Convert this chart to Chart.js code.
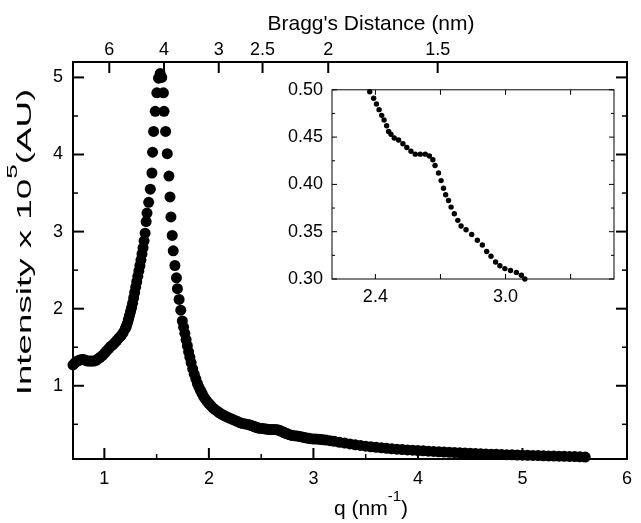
<!DOCTYPE html>
<html>
<head>
<meta charset="utf-8">
<script src="https://cdn.jsdelivr.net/npm/chart.js@4.4.1/dist/chart.umd.min.js"></script>
<style>
html,body{margin:0;padding:0;background:#fff;overflow:hidden}
#wrap{position:relative;width:641px;height:523px}
#main{position:absolute;left:0;top:0}
#inset{position:absolute;left:270px;top:70px}
</style>
</head>
<body>
<div id="wrap">
<canvas id="main" width="641" height="523"></canvas>
<canvas id="inset" width="360" height="239"></canvas>
</div>
<script>
// main curve (q in nm^-1, intensity x 10^5)
const qRise = [0.70,0.72,0.74,0.76,0.78,0.80,0.82,0.84,0.86,0.88,0.90,0.92,0.94,0.96,0.98,1.00,1.02,1.04,1.06,1.08,1.10,1.12,1.14,1.16,1.18,1.20,1.21,1.22,1.23,1.24,1.25,1.26,1.27,1.28,1.29,1.30,1.31,1.32,1.33,1.34,1.35,1.36,1.37,1.38,1.39,1.40]
const intensityRise = [1.27,1.30,1.32,1.33,1.34,1.34,1.33,1.32,1.32,1.32,1.32,1.33,1.35,1.37,1.39,1.42,1.45,1.48,1.51,1.53,1.56,1.59,1.62,1.65,1.69,1.74,1.77,1.81,1.86,1.91,1.96,2.01,2.07,2.14,2.21,2.28,2.35,2.42,2.49,2.56,2.63,2.71,2.79,2.88,2.98,3.13]

const qPeak = [1.408,1.424,1.440,1.455,1.461,1.471,1.487,1.502,1.518,1.534,1.549,1.565,1.571,1.586,1.602,1.618,1.628,1.637,1.649,1.659,1.675,1.690,1.699,1.715,1.731,1.746]
const intensityPeak = [3.24,3.38,3.55,3.76,4.03,4.30,4.56,4.80,4.99,5.05,5.00,4.80,4.56,4.30,4.01,3.72,3.45,3.19,2.95,2.75,2.56,2.40,2.26,2.12,1.98,1.84]

const qFall = [1.758,1.770,1.782,1.794,1.806,1.818,1.830,1.845,1.860,1.875,1.890,1.905,1.920,1.935,1.950,1.965,1.980,2.000,2.020,2.040,2.060,2.080,2.100,2.125,2.150,2.175,2.200,2.225,2.250,2.275,2.300,2.325,2.350]
const intensityFall = [1.76,1.68,1.60,1.52,1.44,1.37,1.30,1.22,1.15,1.09,1.03,0.98,0.94,0.90,0.86,0.83,0.80,0.77,0.74,0.71,0.69,0.67,0.65,0.63,0.61,0.595,0.58,0.565,0.55,0.535,0.52,0.51,0.503]

// the zoomed part (also shown in the inset)
const qInset = [2.374,2.392,2.405,2.417,2.429,2.440,2.452,2.461,2.472,2.487,2.507,2.527,2.545,2.564,2.584,2.607,2.630,2.649,2.665,2.675,2.691,2.703,2.714,2.724,2.737,2.749,2.764,2.780,2.795,2.818,2.844,2.870,2.893,2.913,2.933,2.954,2.974,2.997,3.023,3.050,3.073,3.089]
const intensityInset = [0.498,0.491,0.485,0.479,0.473,0.468,0.462,0.456,0.453,0.449,0.447,0.443,0.439,0.435,0.432,0.432,0.432,0.430,0.426,0.420,0.412,0.404,0.396,0.389,0.383,0.376,0.369,0.362,0.356,0.352,0.347,0.341,0.336,0.329,0.324,0.318,0.314,0.311,0.309,0.307,0.304,0.300]

const qTail = [3.12,3.16,3.20,3.25,3.30,3.35,3.40,3.45,3.50,3.55,3.60,3.65,3.70,3.75,3.80,3.85,3.90,3.95,4.00,4.05,4.10,4.15,4.20,4.25,4.30,4.35,4.40,4.45,4.50,4.55,4.60,4.65,4.70,4.75,4.80,4.85,4.90,4.95,5.00,5.05,5.10,5.15,5.20,5.25,5.30,5.35,5.40,5.45,5.50,5.55,5.60]
const intensityTail = [0.296,0.288,0.279,0.267,0.256,0.245,0.235,0.226,0.217,0.209,0.202,0.195,0.189,0.183,0.178,0.173,0.168,0.164,0.160,0.156,0.152,0.148,0.144,0.140,0.137,0.134,0.131,0.128,0.125,0.122,0.119,0.116,0.113,0.110,0.108,0.106,0.104,0.102,0.100,0.098,0.096,0.094,0.092,0.090,0.088,0.087,0.085,0.083,0.081,0.078,0.075]

// ticks
const xTicks = [1,2,3,4,5,6]
const xMinor = [1.5,2.5,3.5,4.5,5.5]
const yTicks = [1,2,3,4,5]
const yMinor = [0.5,1.5,2.5,3.5,4.5]
const braggTicks = [6,4,3,2.5,2,1.5]   // nm, top axis
const insetXTicks = [2.4,3.0]
const insetXMinor = [2.7,3.3]
const insetYTicks = [0.30,0.35,0.40,0.45,0.50]
const insetYMinor = [0.325,0.375,0.425,0.475]

const topTitle = "Bragg's Distance (nm)"
const bottomTitle = [['q (nm',false],['-1',true],[')',false]]
const leftTitle = [['Intensity x 10',false],['5',true],['(AU)',false]]

const FONT = '"Liberation Sans", Arial, Helvetica, sans-serif'
Chart.defaults.font.family = FONT
Chart.defaults.color = '#000'

const qMain = [...qRise,...qPeak,...qFall,...qInset,...qTail]
const intensityMain = [...intensityRise,...intensityPeak,...intensityFall,...intensityInset,...intensityTail]
const braggQ = braggTicks.map(d => 2*Math.PI/d)

function toPoints(xs,ys){
    return xs.map((x,i) => ({x, y: ys[i]}))
}

// inward tick marks + closed frame, drawn with the chart's own scales
function tickFrame(marks, frameWidth){
    return {
        id: 'tickFrame',
        afterDraw(chart){
            const {ctx, chartArea: a, scales} = chart
            ctx.save()
            ctx.strokeStyle = '#000'
            ctx.lineCap = 'butt'
            marks.forEach(m => {
                const s = scales[m.scale]
                ctx.lineWidth = m.width
                m.values.forEach(v => {
                    const p = s.getPixelForValue(v)
                    ctx.beginPath()
                    if(m.side === 'bottom'){ ctx.moveTo(p,a.bottom); ctx.lineTo(p,a.bottom-m.len) }
                    if(m.side === 'top'){ ctx.moveTo(p,a.top); ctx.lineTo(p,a.top+m.len) }
                    if(m.side === 'left'){ ctx.moveTo(a.left,p); ctx.lineTo(a.left+m.len,p) }
                    if(m.side === 'right'){ ctx.moveTo(a.right,p); ctx.lineTo(a.right-m.len,p) }
                    ctx.stroke()
                })
            })
            ctx.lineWidth = frameWidth
            ctx.strokeRect(a.left, a.top, a.right-a.left, a.bottom-a.top)
            ctx.restore()
        }
    }
}

function drawParts(ctx, parts, x, y, size, supSize, rise){
    let total = 0
    parts.forEach(([t,sup]) => {
        ctx.font = `${sup ? supSize : size}px ${FONT}`
        total += ctx.measureText(t).width
    })
    let cx = x - total/2
    parts.forEach(([t,sup]) => {
        ctx.font = `${sup ? supSize : size}px ${FONT}`
        ctx.fillText(t, cx, sup ? y-rise : y)
        cx += ctx.measureText(t).width
    })
}

const axisTitles = {
    id: 'axisTitles',
    afterDraw(chart){
        const ctx = chart.ctx
        ctx.save()
        ctx.fillStyle = '#000'
        ctx.textBaseline = 'alphabetic'
        ctx.textAlign = 'left'
        ctx.font = `21px ${FONT}`
        const w = ctx.measureText(topTitle).width
        ctx.fillText(topTitle, 371 - w/2, 30)
        drawParts(ctx, bottomTitle, 371, 515, 21, 15, 14)
        // the y title in the picture is drawn long and narrow
        ctx.translate(31, 242)
        ctx.rotate(-Math.PI/2)
        ctx.scale(1.75, 1)
        drawParts(ctx, leftTitle, 0, 0, 21, 15, 14)
        ctx.restore()
    }
}

const noGrid = {display:false, drawTicks:false}

new Chart(document.getElementById('main'),{
    type: 'scatter',
    data: {
        datasets: [{
            data: toPoints(qMain, intensityMain),
            pointRadius: 5.5,
            pointBorderWidth: 0,
            pointBackgroundColor: '#000',
            backgroundColor: '#000',
            borderColor: '#000',
            clip: false
        }]
    },
    options: {
        responsive: false,
        animation: false,
        events: [],
        layout: {padding: {left:0, right:4, top:0, bottom:0}},
        plugins: {legend:{display:false}, tooltip:{enabled:false}},
        scales: {
            x: {
                type: 'linear', position: 'bottom', min: 0.7, max: 6,
                afterBuildTicks: s => { s.ticks = xTicks.map(value => ({value})) },
                afterFit: s => { s.height = 64 },
                grid: noGrid, border: {display:false},
                ticks: {autoSkip:false, maxRotation:0, padding:9, font:{size:18}, callback: v => String(v)}
            },
            xTop: {
                type: 'linear', position: 'top', min: 0.7, max: 6,
                afterBuildTicks: s => { s.ticks = braggQ.map(value => ({value})) },
                afterFit: s => { s.height = 62 },
                grid: noGrid, border: {display:false},
                ticks: {autoSkip:false, maxRotation:0, padding:1, font:{size:18}, callback: (v,i) => String(braggTicks[i])}
            },
            y: {
                type: 'linear', position: 'left', min: 0.05, max: 5.2,
                afterBuildTicks: s => { s.ticks = yTicks.map(value => ({value})) },
                afterFit: s => { s.width = 73 },
                grid: noGrid, border: {display:false},
                ticks: {autoSkip:false, padding:10, font:{size:18}, callback: v => String(v)}
            }
        }
    },
    plugins: [tickFrame([
        {scale:'x', side:'bottom', values:xTicks, len:11, width:2},
        {scale:'x', side:'bottom', values:xMinor, len:5, width:1.5},
        {scale:'xTop', side:'top', values:braggQ, len:11, width:2},
        {scale:'y', side:'left', values:yTicks, len:11, width:2},
        {scale:'y', side:'left', values:yMinor, len:5, width:1.5},
        {scale:'y', side:'right', values:yTicks, len:11, width:2},
        {scale:'y', side:'right', values:yMinor, len:5, width:1.5}
    ], 2), axisTitles]
})

new Chart(document.getElementById('inset'),{
    type: 'scatter',
    data: {
        datasets: [{
            data: toPoints(qInset, intensityInset),
            pointRadius: 2.7,
            pointBorderWidth: 0,
            pointBackgroundColor: '#000',
            backgroundColor: '#000',
            borderColor: '#000',
            clip: false
        }]
    },
    options: {
        responsive: false,
        animation: false,
        events: [],
        layout: {padding: {left:0, right:16, top:14, bottom:0}},
        plugins: {legend:{display:false}, tooltip:{enabled:false}},
        scales: {
            x: {
                type: 'linear', position: 'bottom', min: 2.2, max: 3.5,
                afterBuildTicks: s => { s.ticks = insetXTicks.map(value => ({value})) },
                afterFit: s => { s.height = 30 },
                grid: noGrid, border: {display:false},
                ticks: {autoSkip:false, maxRotation:0, padding:7, font:{size:18}, callback: v => v.toFixed(1)}
            },
            y: {
                type: 'linear', position: 'left', min: 0.30, max: 0.50,
                afterBuildTicks: s => { s.ticks = insetYTicks.map(value => ({value})) },
                afterFit: s => { s.width = 62 },
                grid: noGrid, border: {display:false},
                ticks: {autoSkip:false, padding:9, font:{size:18}, callback: v => v.toFixed(2)}
            }
        }
    },
    plugins: [tickFrame([
        {scale:'x', side:'bottom', values:insetXTicks, len:5, width:1},
        {scale:'x', side:'bottom', values:insetXMinor, len:5, width:1},
        {scale:'x', side:'top', values:insetXTicks, len:5, width:1},
        {scale:'x', side:'top', values:insetXMinor, len:5, width:1},
        {scale:'y', side:'left', values:insetYTicks, len:5, width:1},
        {scale:'y', side:'left', values:insetYMinor, len:3, width:1},
        {scale:'y', side:'right', values:insetYTicks, len:5, width:1},
        {scale:'y', side:'right', values:insetYMinor, len:3, width:1}
    ], 1)]
})
</script>
</body>
</html>
